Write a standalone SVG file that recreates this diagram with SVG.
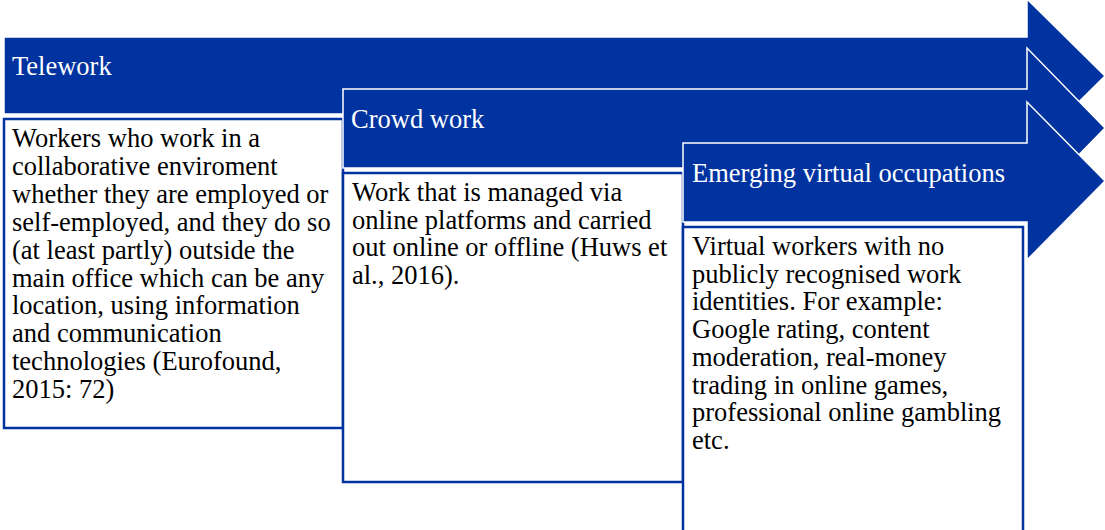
<svg xmlns="http://www.w3.org/2000/svg" width="1105" height="530" viewBox="0 0 1105 530">
  <style>
    .arrow { fill: #0033A0; stroke: #FFFFFF; stroke-width: 1.5; stroke-linejoin: miter; }
    .box { fill: #FFFFFF; stroke: #0033A0; stroke-width: 2.5; }
    .head { font-family: "Liberation Serif", "Times New Roman", serif; font-size: 26.5px; fill: #FFFFFF; }
    .body { font-family: "Liberation Serif", "Times New Roman", serif; font-size: 26.5px; fill: #000000; }
  </style>
  <rect width="1105" height="530" fill="#FFFFFF"/>
  <g id="connectors"></g>
  <g id="telework">
    <polygon class="arrow" points="4,37 1027,37 1027,-1 1105,76 1027,153 1027,114 4,114"/>
    <text class="head" x="12" y="75">Telework</text>
  </g>
  <g id="telework-desc">
    <rect class="box" x="4" y="119" width="339" height="309"/>
    <text class="body" x="12" y="147">
      <tspan x="12" dy="0">Workers who work in a</tspan>
      <tspan x="12" dy="27.9">collaborative enviroment</tspan>
      <tspan x="12" dy="27.9">whether they are employed or</tspan>
      <tspan x="12" dy="27.9">self-employed, and they do so</tspan>
      <tspan x="12" dy="27.9">(at least partly) outside the</tspan>
      <tspan x="12" dy="27.9">main office which can be any</tspan>
      <tspan x="12" dy="27.9">location, using information</tspan>
      <tspan x="12" dy="27.9">and communication</tspan>
      <tspan x="12" dy="27.9">technologies (Eurofound,</tspan>
      <tspan x="12" dy="27.9">2015: 72)</tspan>
    </text>
  </g>
  <g id="crowdwork">
    <polygon class="arrow" points="343,89 1027,89 1027,48 1105,128 1027,208 1027,168 343,168"/>
    <text class="head" x="351" y="128">Crowd work</text>
  </g>
  <g id="crowdwork-desc">
    <rect class="box" x="343" y="173" width="340" height="309"/>
    <text class="body" x="352" y="201">
      <tspan x="352" dy="0">Work that is managed via</tspan>
      <tspan x="352" dy="27.7">online platforms and carried</tspan>
      <tspan x="352" dy="27.7">out online or offline (Huws et</tspan>
      <tspan x="352" dy="27.7">al., 2016).</tspan>
    </text>
  </g>
  <g id="virtual">
    <polygon class="arrow" points="683,143 1027,143 1027,102 1105,181 1027,260 1027,222 683,222"/>
    <text class="head" x="692" y="182">Emerging virtual occupations</text>
  </g>
  <g id="virtual-desc">
    <rect class="box" x="683" y="227" width="340" height="320"/>
    <text class="body" x="692" y="255">
      <tspan x="692" dy="0">Virtual workers with no</tspan>
      <tspan x="692" dy="27.7">publicly recognised work</tspan>
      <tspan x="692" dy="27.7">identities. For example:</tspan>
      <tspan x="692" dy="27.7">Google rating, content</tspan>
      <tspan x="692" dy="27.7">moderation, real-money</tspan>
      <tspan x="692" dy="27.7">trading in online games,</tspan>
      <tspan x="692" dy="27.7">professional online gambling</tspan>
      <tspan x="692" dy="27.7">etc.</tspan>
    </text>
  </g>
</svg>
